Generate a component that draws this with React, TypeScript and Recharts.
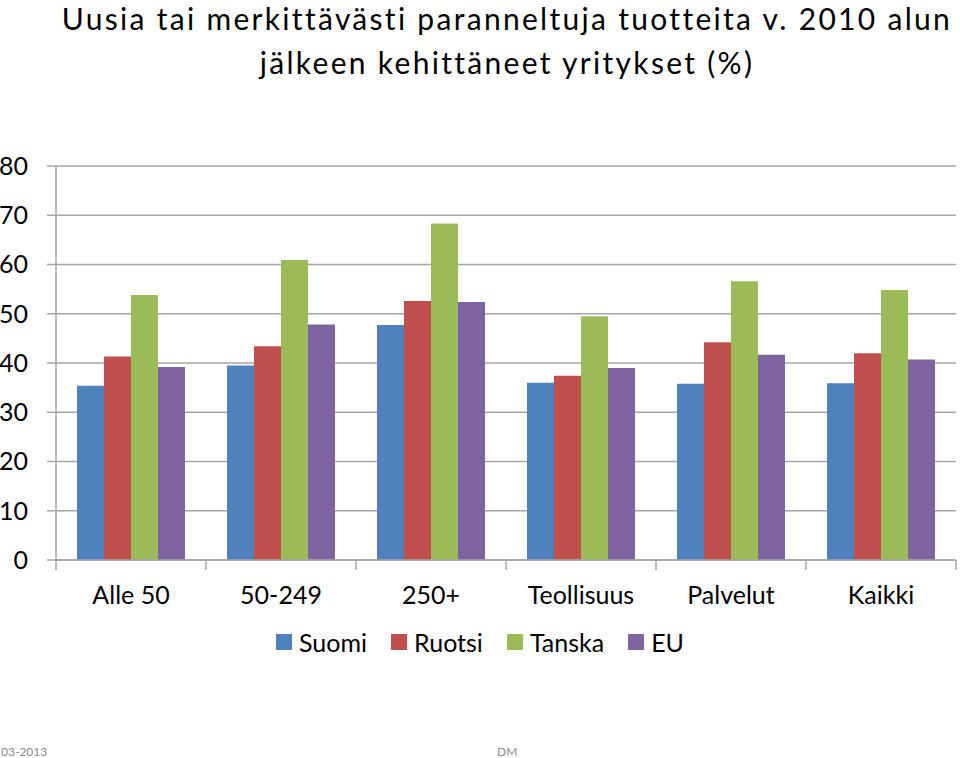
import React from 'react';
import { BarChart, Bar, XAxis, YAxis, CartesianGrid, Legend } from 'recharts';

const categories = ['Alle 50', '50-249', '250+', 'Teollisuus', 'Palvelut', 'Kaikki'];
const suomi = [35.4, 39.5, 47.7, 36.0, 35.8, 35.9];
const ruotsi = [41.3, 43.4, 52.6, 37.4, 44.2, 42.0];
const tanska = [53.8, 60.9, 68.3, 49.5, 56.6, 54.8];
const eu = [39.2, 47.8, 52.4, 39.0, 41.7, 40.7];
const seriesNames = ['Suomi', 'Ruotsi', 'Tanska', 'EU'];
const seriesColors = ['#4F81BD', '#C0504D', '#9BBB59', '#8064A2'];
const yTicks = [0, 10, 20, 30, 40, 50, 60, 70, 80];
const titleLines = ['Uusia tai merkittävästi paranneltuja tuotteita v. 2010 alun', 'jälkeen kehittäneet yritykset (%)'];

const data = categories.map((c, i) => ({
  name: c,
  Suomi: suomi[i],
  Ruotsi: ruotsi[i],
  Tanska: tanska[i],
  EU: eu[i],
}));

const W = 960;
const H = 758;
const M_LEFT = 0;
const Y_W = 56;
const M_RIGHT = 4;
const M_TOP = 166;
const PLOT_BOTTOM = 560;
const PLOT_W = W - M_LEFT - Y_W - M_RIGHT;
const GRID = '#a6a6a6';
const LABEL_FONT = 'Lato, "Open Sans", sans-serif';

const XTick = (props: any) => {
  const { x, y, payload, index } = props;
  const half = PLOT_W / categories.length / 2;
  return (
    <g>
      <line x1={x - half} x2={x - half} y1={y} y2={y + 10} stroke={GRID} strokeWidth={1.5} />
      {index === categories.length - 1 && (
        <line x1={x + half} x2={x + half} y1={y} y2={y + 10} stroke={GRID} strokeWidth={1.5} />
      )}
      <text x={x} y={y + 38} textAnchor="middle" dominantBaseline="middle" fontFamily={LABEL_FONT} fontSize={25} fill="#000">
        {payload.value}
      </text>
    </g>
  );
};

const LegendContent = () => (
  <div style={{ display: 'flex', justifyContent: 'center', alignItems: 'center', fontFamily: LABEL_FONT, fontSize: 25, color: '#000' }}>
    {seriesNames.map((n, i) => (
      <div key={n} style={{ display: 'flex', alignItems: 'center', marginRight: i < seriesNames.length - 1 ? 24 : 0 }}>
        <span style={{ display: 'inline-block', width: 16, height: 16, background: seriesColors[i], marginRight: 7 }} />
        <span>{n}</span>
      </div>
    ))}
  </div>
);

export default function App() {
  return (
    <div style={{ position: 'absolute', left: 0, top: 0, width: W, height: H, background: '#fff' }}>
      <svg width={W} height={100} style={{ position: 'absolute', left: 0, top: 0, zIndex: 2 }}>
        {titleLines.map((t, i) => (
          <text
            key={i}
            x={507}
            y={i === 0 ? 30 : 74}
            textAnchor="middle"
            fontFamily={LABEL_FONT}
            fontSize={30}
            letterSpacing={2.3}
            fill="#000"
          >
            {t}
          </text>
        ))}
      </svg>
      <BarChart
        width={W}
        height={H}
        data={data}
        margin={{ top: M_TOP, right: M_RIGHT, left: M_LEFT, bottom: 0 }}
        barCategoryGap="14%"
        barGap={0}
      >
        <CartesianGrid vertical={false} stroke={GRID} strokeWidth={1.5} />
        <XAxis
          dataKey="name"
          height={H - PLOT_BOTTOM}
          axisLine={{ stroke: GRID, strokeWidth: 1.5 }}
          tickLine={false}
          tickSize={0}
          tickMargin={0}
          tick={<XTick />}
          interval={0}
        />
        <YAxis
          width={Y_W}
          domain={[0, 80]}
          ticks={yTicks}
          interval={0}
          axisLine={{ stroke: GRID, strokeWidth: 1.5 }}
          tickLine={{ stroke: GRID, strokeWidth: 1.5 }}
          tickSize={9}
          tickMargin={19}
          tick={{ fontFamily: LABEL_FONT, fontSize: 25, fill: '#000' }}
        />
        <Legend verticalAlign="middle" layout="horizontal" wrapperStyle={{ top: 627, left: 0, width: W }} content={<LegendContent />} />
        {seriesNames.map((n, i) => (
          <Bar key={n} dataKey={n} fill={seriesColors[i]} isAnimationActive={false} />
        ))}
      </BarChart>
      <div style={{ position: 'absolute', left: 1, top: 744, fontFamily: LABEL_FONT, fontSize: 12, color: '#8c8c8c' }}>03-2013</div>
      <div style={{ position: 'absolute', left: 497, top: 744, fontFamily: LABEL_FONT, fontSize: 12, color: '#8c8c8c' }}>DM</div>
    </div>
  );
}
